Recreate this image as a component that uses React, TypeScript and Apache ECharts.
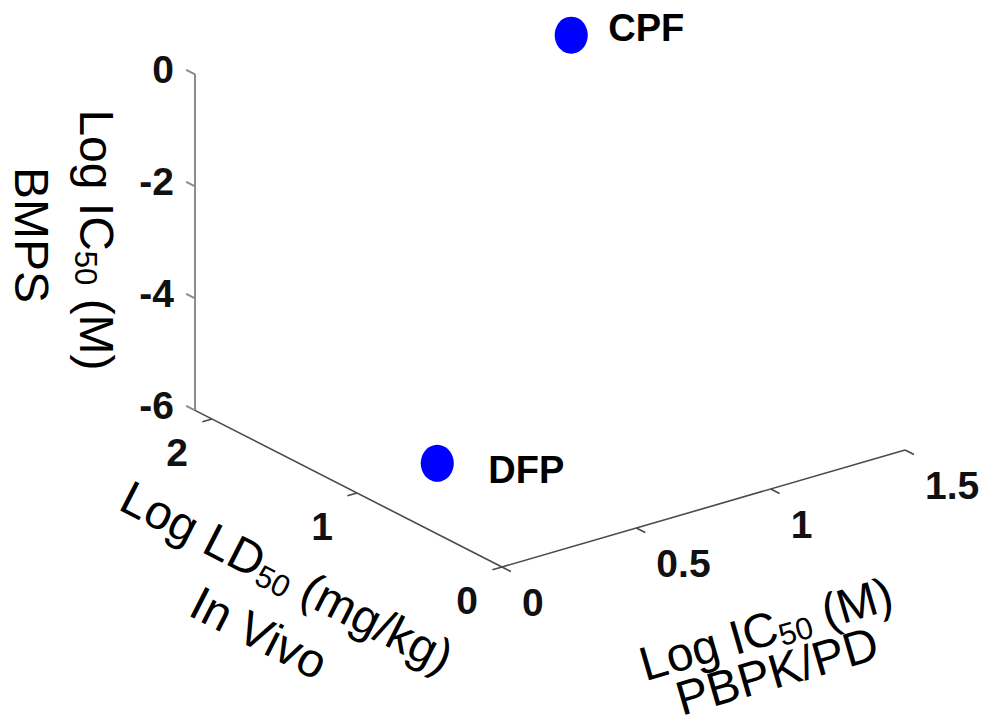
import React, { useEffect, useRef } from "react";
import * as echarts from "echarts";

// ---------------- data ----------------
const compounds = ["CPF", "DFP"];
const pbpkLogIC50 = [1.4, 0.18]; // x : Log IC50 (M) PBPK/PD
const invivoLogLD50 = [2.117, 0.78]; // y : Log LD50 (mg/kg) In Vivo
const bmpsLogIC50 = [-1.25, -5.43]; // z : Log IC50 (M) BMPS

const xTicks = [0, 0.5, 1, 1.5];
const xTickLabels = ["0", "0.5", "1", "1.5"];
const yTicks = [0, 1, 2];
const yTickLabels = ["0", "1", "2"];
const zTicks = [-6, -4, -2, 0];
const zTickLabels = ["-6", "-4", "-2", "0"];

const xLimits = [0, 1.5];
const yLimits = [0, 2.117];
const zLimits = [-6, 0];

// ---------------- view: orthographic projection of the 3-D box ----------------
const W = 992;
const H = 727;
const ORIGIN = [502, 567]; // page position of (xmin, ymin, zmin)
const EX = [268.7, -78]; // page step for one x unit
const EY = [-145, -74]; // page step for one y unit
const EZ = [0, -56]; // page step for one z unit

function proj(x: number, y: number, z: number): number[] {
  const dx = x - xLimits[0];
  const dy = y - yLimits[0];
  const dz = z - zLimits[0];
  return [
    ORIGIN[0] + EX[0] * dx + EY[0] * dy + EZ[0] * dz,
    ORIGIN[1] + EX[1] * dx + EY[1] * dy + EZ[1] * dz,
  ];
}
const TICK_PX = 10;
const tX = TICK_PX / Math.hypot(EX[0], EX[1]);
const tY = TICK_PX / Math.hypot(EY[0], EY[1]);

const FONT = '"Liberation Sans", Arial, Helvetica, sans-serif';

export default function App() {
  const ref = useRef<HTMLDivElement>(null);

  useEffect(() => {
    document.body.style.margin = "0";
    if (!ref.current) return;
    const chart = echarts.init(ref.current, undefined, { renderer: "svg" });

    const [x0, x1] = xLimits;
    const [y0, y1] = yLimits;
    const [z0, z1] = zLimits;

    // segments: [xa, ya, xb, yb, isZ]
    const segs: number[][] = [];
    const seg = (a: number[], b: number[], k: number) => segs.push([a[0], a[1], b[0], b[1], k]);
    seg(proj(x0, y1, z0), proj(x0, y1, z1), 1); // z axis
    seg(proj(x0, y0, z0), proj(x0, y1, z0), 0); // y axis
    seg(proj(x0, y0, z0), proj(x1, y0, z0), 0); // x axis
    zTicks.forEach((z) => seg(proj(x0, y1, z), proj(x0, y1 + tY, z), 1));
    yTicks.forEach((y) => seg(proj(x0, y, z0), proj(x0 - tX, y, z0), 0));
    xTicks.forEach((x) => seg(proj(x, y0, z0), proj(x, y0 - tY, z0), 0));

    type Lbl = { p: number[]; text: string; align: string };
    const labels: Lbl[] = [];
    zTicks.forEach((z, i) => {
      const p = proj(x0, y1, z);
      labels.push({ p: [p[0] - 21, p[1] - 5], text: zTickLabels[i], align: "right" });
    });
    yTicks.forEach((y, i) => {
      const p = proj(x0, y, z0);
      labels.push({ p: [p[0] - 35, p[1] + 33], text: yTickLabels[i], align: "center" });
    });
    xTicks.forEach((x, i) => {
      const p = proj(x, y0, z0);
      labels.push({ p: [p[0] + 20, p[1] + 35], text: xTickLabels[i], align: "left" });
    });

    const labelOffsets = [
      [20.5, -7],
      [34.5, 7],
    ];
    const points = compounds.map((name, i) => ({
      name,
      value: proj(pbpkLogIC50[i], invivoLogLD50[i], bmpsLogIC50[i]),
      label: { offset: labelOffsets[i] },
    }));

    const rich = {
      m: { fontSize: 48, fontFamily: FONT, lineHeight: 52, fill: "#000", color: "#000" },
      s: {
        fontSize: 31,
        fontFamily: FONT,
        lineHeight: 34,
        verticalAlign: "bottom",
        fill: "#000",
        color: "#000",
      },
    };
    const titleText = (x: number, y: number, deg: number, text: string, useRich: boolean) => ({
      type: "text",
      x,
      y,
      rotation: (deg * Math.PI) / 180,
      z: 10,
      style: useRich
        ? { text, rich, align: "center", verticalAlign: "middle", fill: "#000" }
        : {
            text,
            fontSize: 48,
            lineHeight: 40,
            fontFamily: FONT,
            align: "center",
            verticalAlign: "middle",
            fill: "#000",
          },
    });

    const option: any = {
      animation: false,
      backgroundColor: "#fff",
      grid: { left: 0, top: 0, width: W, height: H, containLabel: false },
      xAxis: { type: "value", min: 0, max: W, show: false },
      yAxis: { type: "value", min: 0, max: H, inverse: true, show: false },
      series: [
        {
          type: "custom",
          name: "box",
          coordinateSystem: "cartesian2d",
          clip: false,
          silent: true,
          encode: { x: [0, 2], y: [1, 3] },
          data: segs,
          renderItem: (params: any, api: any) => {
            const a = api.coord([api.value(0), api.value(1)]);
            const b = api.coord([api.value(2), api.value(3)]);
            const isZ = api.value(4) === 1;
            return {
              type: "line",
              shape: { x1: a[0], y1: a[1], x2: b[0], y2: b[1] },
              style: { stroke: isZ ? "#8a8a8a" : "#4a4a4a", lineWidth: isZ ? 2 : 1.6 },
            };
          },
        },
        {
          type: "custom",
          name: "tickLabels",
          coordinateSystem: "cartesian2d",
          clip: false,
          silent: true,
          encode: { x: 0, y: 1 },
          data: labels.map((l) => l.p),
          renderItem: (params: any, api: any) => {
            const l = labels[params.dataIndex];
            const p = api.coord([api.value(0), api.value(1)]);
            return {
              type: "text",
              x: p[0],
              y: p[1],
              style: {
                text: l.text,
                fill: "#111",
                fontSize: 39,
                fontWeight: "bold",
                fontFamily: FONT,
                align: l.align,
                verticalAlign: "middle",
              },
            };
          },
        },
        {
          type: "scatter",
          name: "compounds",
          symbol: "circle",
          symbolSize: [33, 37],
          itemStyle: { color: "#0000ff", opacity: 1 },
          data: points,
          label: {
            show: true,
            position: "right",
            distance: 0,
            formatter: (p: any) => p.name,
            color: "#000",
            fontSize: 38,
            fontWeight: "bold",
            fontFamily: FONT,
          },
        },
      ],
      graphic: [
        titleText(96, 240, -90, "{m|Log IC}{s|50}{m| (M)}", true),
        titleText(31, 235, -90, "BMPS", false),
        titleText(287, 577, -27, "{m|Log LD}{s|50}{m| (mg/kg)}", true),
        titleText(259, 633, -27, "In Vivo", false),
        titleText(766, 629, 16.2, "{m|Log IC}{s|50}{m| (M)}", true),
        titleText(777, 671, 16.2, "PBPK/PD", false),
      ],
    };
    chart.setOption(option);
    return () => chart.dispose();
  }, []);

  return <div ref={ref} style={{ width: W, height: H }} />;
}
